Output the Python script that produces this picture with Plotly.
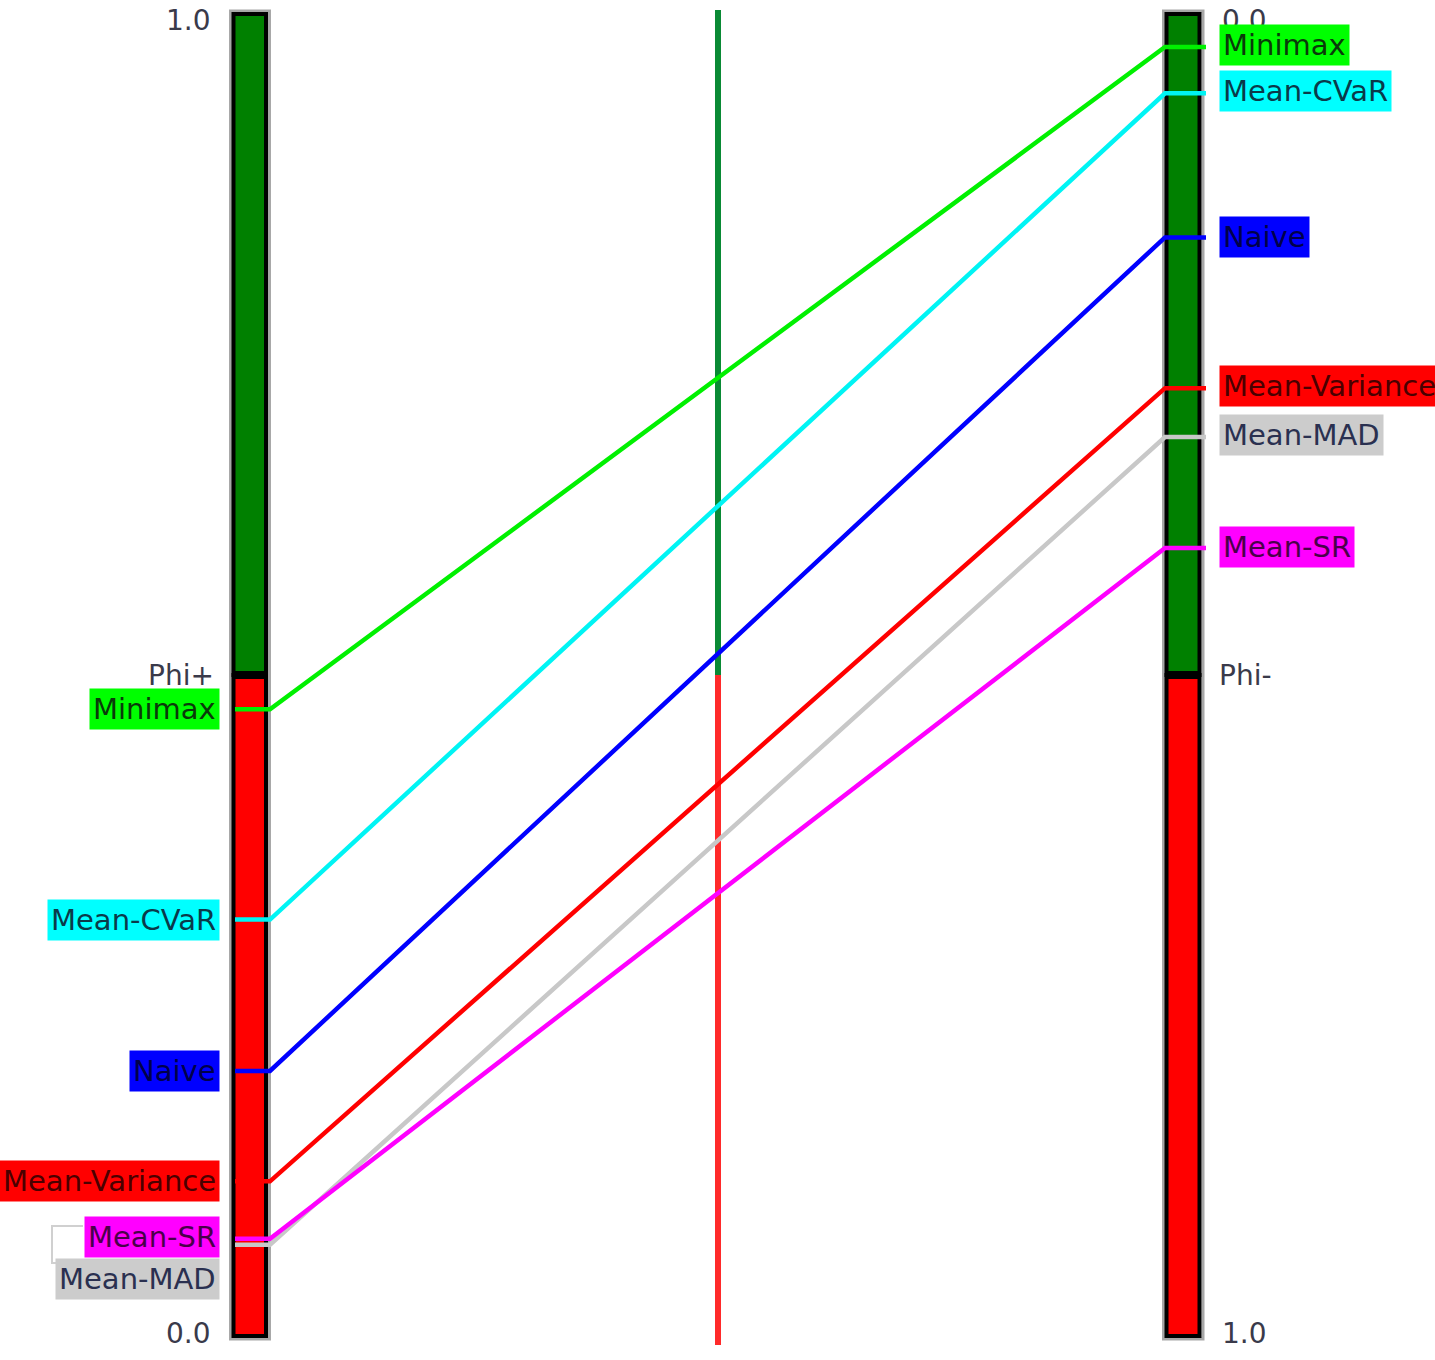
import plotly.graph_objects as go

# ---- data ----
alternatives = ["Minimax", "Mean-CVaR", "Naive", "Mean-Variance", "Mean-MAD", "Mean-SR"]
phi_plus = [0.474, 0.315, 0.2005, 0.117, 0.069, 0.0735]
phi_minus = [0.025, 0.060, 0.169, 0.283, 0.320, 0.404]
line_colors = ["#00F000", "#00F4F4", "#0000FF", "#FF0000", "#C8C8C8", "#FF00FF"]
label_bg = ["#00FF00", "#00FFFF", "#0000FF", "#FF0000", "#CCCCCC", "#FF00FF"]
label_fg = ["#0A3A0A", "#0A3A4A", "#00004A", "#4A0000", "#2A3050", "#4A004A"]
left_label_shift = [0, 0, 0, 0, -34, 2]
right_label_shift = [2, 2, 0, 2, 2, 1]
axis_ticks = ["0.0", "1.0"]
axis_names = ["Phi+", "Phi-"]

W, H = 1435, 1360
TOP_PX, BOT_PX = 14, 1336
span = BOT_PX - TOP_PX
y_lo = -(H - BOT_PX) / span
y_hi = 1 + TOP_PX / span

# layout positions (pixels on x axis)
LB = (233.5, 266.0)       # left bar black frame
RB = (1166.5, 1199.5)     # right bar black frame
MID_X = 718
LINE_X = [235, 270, 1165, 1206]
LEFT_LABEL_X = 220
RIGHT_LABEL_X = 1219

fig = go.Figure()

shapes = []
def bar(x0, x1):
    # gray halo
    shapes.append(dict(type="rect", xref="x", yref="y", x0=x0 - 3, x1=x1 + 3.5,
                       y0=0 - 3 / span, y1=1 + 3 / span, line=dict(color="#A8A8A8", width=3),
                       fillcolor="rgba(0,0,0,0)", layer="below"))
    shapes.append(dict(type="rect", xref="x", yref="y", x0=x0, x1=x1, y0=0.5, y1=1,
                       fillcolor="#008000", line=dict(color="#000000", width=4), layer="below"))
    shapes.append(dict(type="rect", xref="x", yref="y", x0=x0, x1=x1, y0=0, y1=0.5,
                       fillcolor="#FF0000", line=dict(color="#000000", width=4), layer="below"))
    shapes.append(dict(type="line", xref="x", yref="y", x0=x0, x1=x1, y0=0.5, y1=0.5,
                       line=dict(color="#000000", width=8), layer="below"))

bar(*LB)
bar(*RB)
# middle axis
shapes.append(dict(type="line", xref="x", yref="y", x0=MID_X, x1=MID_X, y0=0.5, y1=1 + 4 / span,
                   line=dict(color="#0A8A35", width=6), layer="below"))
shapes.append(dict(type="line", xref="x", yref="y", x0=MID_X, x1=MID_X, y0=-9 / span, y1=0.5,
                   line=dict(color="#FF2A2A", width=6), layer="below"))
# faint leader frame near Mean-SR / Mean-MAD labels
shapes.append(dict(type="path", xref="x", yref="paper",
                   path="M 83 %f L 52 %f L 52 %f L 58 %f" % (1 - 1226 / H, 1 - 1226 / H, 1 - 1263 / H, 1 - 1263 / H),
                   line=dict(color="#D0D0D0", width=2), layer="below"))

for name, p, m, c in zip(alternatives, phi_plus, phi_minus, line_colors):
    yr = 1 - m
    fig.add_trace(go.Scatter(x=LINE_X, y=[p, p, yr, yr], mode="lines",
                             line=dict(color=c, width=4.5), name=name,
                             hoverinfo="skip", showlegend=False))

ann = []
FONT = "DejaVu Sans"
FS = 29
TXT = "#3A3A4A"
# axis end values
ann.append(dict(x=213, y=1, xref="x", yref="y", text=axis_ticks[1], showarrow=False,
                xanchor="right", yanchor="middle", yshift=-6, font=dict(family=FONT, size=FS - 1, color=TXT)))
ann.append(dict(x=213, y=0, xref="x", yref="y", text=axis_ticks[0], showarrow=False,
                xanchor="right", yanchor="middle", yshift=3, font=dict(family=FONT, size=FS - 1, color=TXT)))
ann.append(dict(x=1220, y=1, xref="x", yref="y", text=axis_ticks[0], showarrow=False,
                xanchor="left", yanchor="middle", yshift=-6, font=dict(family=FONT, size=FS - 1, color=TXT)))
ann.append(dict(x=1220, y=0, xref="x", yref="y", text=axis_ticks[1], showarrow=False,
                xanchor="left", yanchor="middle", yshift=3, font=dict(family=FONT, size=FS - 1, color=TXT)))
ann.append(dict(x=216, y=0.5, xref="x", yref="y", text=axis_names[0], showarrow=False,
                xanchor="right", yanchor="middle", font=dict(family=FONT, size=FS - 1, color=TXT)))
ann.append(dict(x=1217, y=0.5, xref="x", yref="y", text=axis_names[1], showarrow=False,
                xanchor="left", yanchor="middle", font=dict(family=FONT, size=FS - 1, color=TXT)))

for name, p, m, bg, fg, ls, rs in zip(alternatives, phi_plus, phi_minus, label_bg, label_fg,
                                      left_label_shift, right_label_shift):
    ann.append(dict(x=LEFT_LABEL_X, y=p, xref="x", yref="y", text=name, showarrow=False,
                    xanchor="right", yanchor="middle", yshift=ls, bgcolor=bg, borderpad=3,
                    font=dict(family=FONT, size=FS, color=fg)))
    ann.append(dict(x=RIGHT_LABEL_X, y=1 - m, xref="x", yref="y", text=name, showarrow=False,
                    xanchor="left", yanchor="middle", yshift=rs, bgcolor=bg, borderpad=3,
                    font=dict(family=FONT, size=FS, color=fg)))

fig.update_layout(
    width=W, height=H,
    margin=dict(l=0, r=0, t=0, b=0),
    paper_bgcolor="white", plot_bgcolor="white",
    xaxis=dict(range=[0, W], visible=False, fixedrange=True),
    yaxis=dict(range=[y_lo, y_hi], visible=False, fixedrange=True),
    shapes=shapes, annotations=ann, showlegend=False,
)

fig.write_html("out.html", config={"displayModeBar": False},
               post_script="document.body.style.margin='0px';document.body.style.overflow='hidden';")
